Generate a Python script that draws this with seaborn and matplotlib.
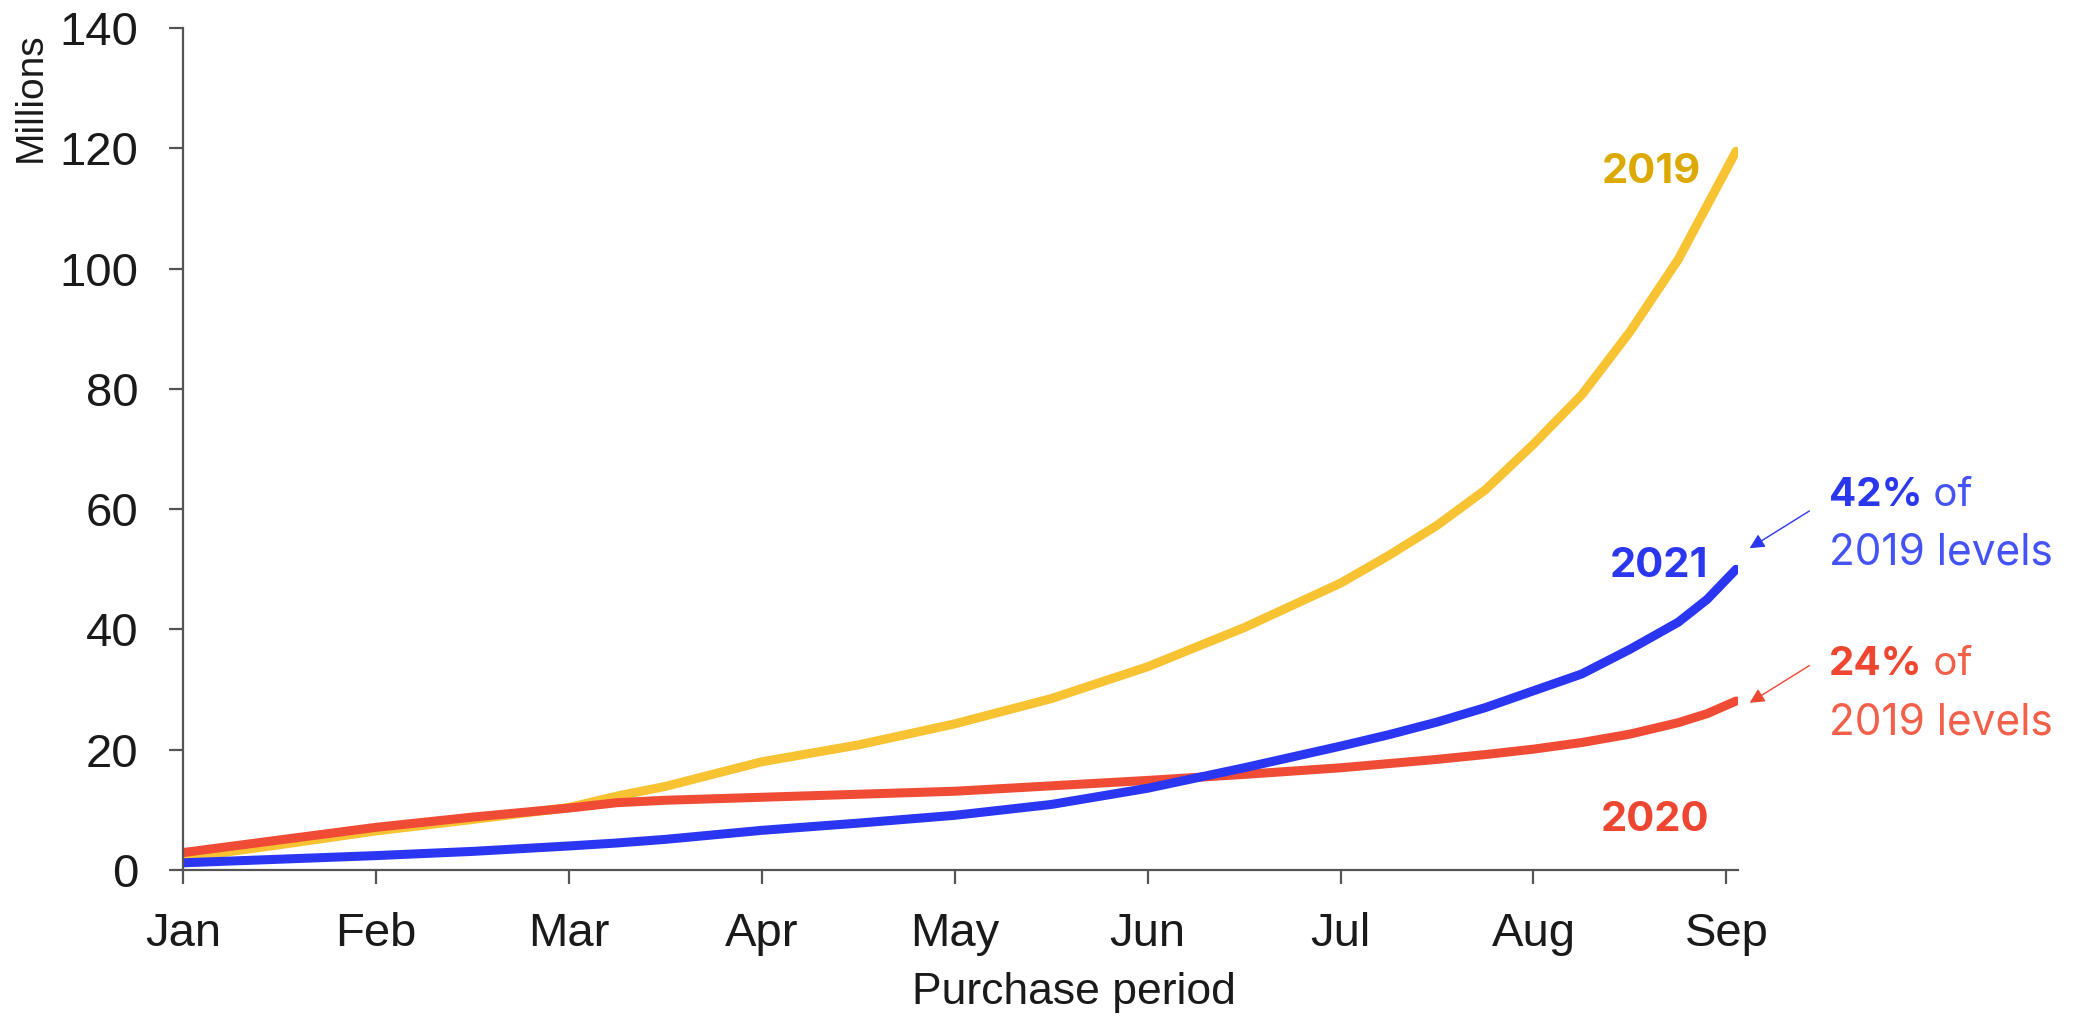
import numpy as np
import pandas as pd
import matplotlib
matplotlib.use('Agg')
import matplotlib.pyplot as plt
import seaborn as sns

# month position (0 = Jan ... 8 = Sep)
months = [0, 0.5, 1, 1.5, 2, 2.25, 2.5, 3, 3.5, 4, 4.5, 5, 5.5, 6, 6.25, 6.5, 6.75, 7, 7.25, 7.5, 7.75, 7.9, 8.05]
y2019 = [2.0, 4.2, 6.5, 8.4, 10.4, 12.3, 13.9, 18.0, 20.8, 24.3, 28.5, 33.8, 40.3, 47.7, 52.3, 57.3, 63.2,
         70.8, 79.0, 89.5, 101.5, 110.5, 119.5]
y2020 = [2.9, 5.0, 7.1, 8.8, 10.3, 11.2, 11.6, 12.1, 12.6, 13.1, 14.0, 14.9, 15.9, 17.0, 17.7, 18.4, 19.2,
         20.1, 21.2, 22.6, 24.5, 26.0, 28.1]
y2021 = [1.2, 1.8, 2.4, 3.1, 4.0, 4.5, 5.1, 6.6, 7.8, 9.1, 10.9, 13.6, 17.0, 20.6, 22.5, 24.6, 27.0,
         29.8, 32.6, 36.7, 41.2, 45.0, 50.0]
month_labels = ['Jan', 'Feb', 'Mar', 'Apr', 'May', 'Jun', 'Jul', 'Aug', 'Sep']
yticks = [0, 20, 40, 60, 80, 100, 120, 140]

line_colors = {'2019': '#F8C332', '2020': '#F04B35', '2021': '#2A36F2'}
label_colors = {'2019': '#DCA900', '2020': '#EE4630', '2021': '#2B37EE'}

df = pd.concat([
    pd.DataFrame({'month': months, 'value': y2019, 'year': '2019'}),
    pd.DataFrame({'month': months, 'value': y2020, 'year': '2020'}),
    pd.DataFrame({'month': months, 'value': y2021, 'year': '2021'}),
])

sns.set_style('white')
plt.rcParams['font.family'] = ['Liberation Sans', 'DejaVu Sans']

fig = plt.figure(figsize=(20.74, 10.17), dpi=100)
ax = fig.add_axes([0.0882, 0.1445, 0.838 - 0.0882, 0.9725 - 0.1445])

sns.lineplot(data=df, x='month', y='value', hue='year', palette=line_colors,
             linewidth=6.5, legend=False, ax=ax, solid_capstyle='round', solid_joinstyle='round')

ax.set_xlim(0, 8.06)
ax.set_ylim(0, 140)
ax.set_xticks(range(len(month_labels)))
ax.set_xticklabels(month_labels)
ax.set_yticks(yticks)
for s in ['top', 'right']:
    ax.spines[s].set_visible(False)
for s in ['left', 'bottom']:
    ax.spines[s].set_color('#555555')
    ax.spines[s].set_linewidth(1.6)
ax.tick_params(axis='both', direction='out', length=10, width=1.6, color='#555555',
               labelsize=34, labelcolor='#1a1a1a', bottom=True, left=True)
ax.tick_params(axis='y', pad=22)
ax.tick_params(axis='x', pad=20)
ax.set_xlabel('Purchase period', fontsize=32, color='#1a1a1a')
ax.xaxis.set_label_coords(0.573, -0.145)
ax.xaxis.label.set_va('center')
ax.set_ylabel('')
fig.text(31 / 2074, 1 - 97 / 1017, 'Millions', rotation=90, ha='center', va='center',
         fontsize=28, color='#1a1a1a')

# series labels
afont = ['Inter', 'DejaVu Sans']
ax.text(7.61, 116.1, '2019', color=label_colors['2019'], fontsize=30, fontweight='bold',
        ha='center', va='center', family=afont)
ax.text(7.65, 50.5, '2021', color=label_colors['2021'], fontsize=30, fontweight='bold',
        ha='center', va='center', family=afont)
ax.text(7.63, 8.3, '2020', color=label_colors['2020'], fontsize=30, fontweight='bold',
        ha='center', va='center', family=afont)

# callouts
for pct, y1, y2, ytip, bold_c, reg_c in [('42%', 62.2, 52.7, 53.5, '#2B37EE', '#4553F5'),
                                         ('24%', 34.1, 24.4, 27.8, '#EE4630', '#F2604A')]:
    tb = ax.text(8.53, y1, pct, color=bold_c, fontsize=29, fontweight='bold',
                 ha='left', va='center', family=afont)
    ax.annotate(' of', xy=(1, 0), xycoords=tb, ha='left', va='bottom',
                color=reg_c, fontsize=29, family=afont)
    ax.text(8.53, y2, '2019 levels', color=reg_c, fontsize=30.5,
            ha='left', va='center', family=afont)
    ax.annotate('', xy=(8.12, ytip), xytext=(8.43, ytip + 6.2), annotation_clip=False,
                arrowprops=dict(arrowstyle='-|>', lw=1.0, color=bold_c, mutation_scale=22,
                                shrinkA=0, shrinkB=0))

fig.savefig('out.png', dpi=100)
